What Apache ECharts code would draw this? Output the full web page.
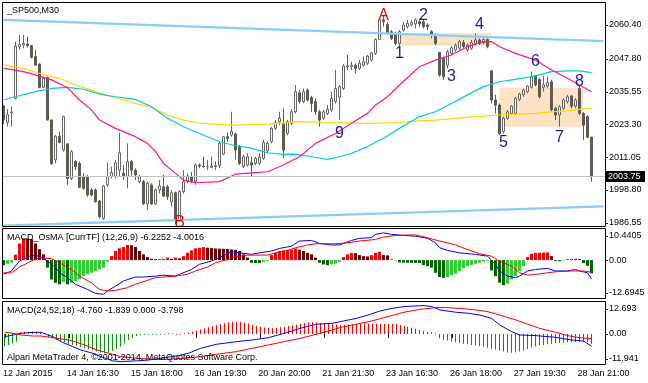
<!DOCTYPE html>
<html><head><meta charset="utf-8">
<script src="https://cdn.jsdelivr.net/npm/echarts@6/dist/echarts.min.js"></script>
<style>html,body{margin:0;padding:0;background:#fff}#c{width:648px;height:383px}</style>
</head><body><div id="c"></div>
<script>
// ---------------- data ----------------
const symbolTitle = '_SP500,M30';
const osmaTitle = 'MACD_OsMA [CurrTF] (12,26,9) -6.2252 -4.0016';
const macdTitle = 'MACD(24,52,18) -4.760 -1.839 0.000 -3.798';
const copyright = 'Alpari MetaTrader 4, \u00a92001-2014, MetaQuotes Software Corp.';
const timeLabels = ['12 Jan 2015','14 Jan 16:30','15 Jan 18:00','16 Jan 19:30','20 Jan 20:00','21 Jan 21:30','23 Jan 16:30','26 Jan 18:00','27 Jan 19:30','28 Jan 21:00'];
const timeLabelStep = 16;
const barSlots = 151;
// [open, close, low, high]
const candles = [
[2030.2,2025.0,2023.5,2030.6],[2024.0,2027.0,2022.5,2029.0],[2027.6,2027.9,2022.5,2030.0],[2033.0,2052.5,2032.6,2054.2],
[2052.3,2053.2,2051.3,2056.7],[2052.9,2053.5,2051.7,2056.7],[2053.3,2052.7,2052.0,2056.0],[2052.7,2048.3,2047.9,2052.9],
[2048.6,2045.4,2045.4,2051.1],[2045.8,2037.1,2036.7,2046.1],[2037.1,2040.5,2036.7,2041.1],[2040.8,2024.9,2024.9,2041.1],
[2024.9,2008.7,2008.1,2025.2],[2010.0,2018.9,2008.7,2019.3],[2018.9,2016.5,2016.2,2020.6],[2013.7,2026.2,2013.1,2026.5],
[2016.0,2003.1,2000.7,2016.2],[2003.1,2013.1,2002.5,2013.7],[2009.4,2007.5,2006.2,2010.0],[2008.7,1999.8,1999.4,2009.4],
[2003.8,1999.4,1998.8,2005.0],[2003.8,1996.9,1996.3,2004.4],[1998.8,1996.9,1996.3,1999.4],[1998.8,1994.4,1994.1,1999.4],
[1994.7,1988.8,1988.2,1995.1],[1988.2,2000.3,1987.6,2000.7],[2000.7,2003.8,2000.0,2009.0],[2003.8,2005.3,2003.1,2007.5],
[2003.8,2009.0,2003.1,2010.0],[2006.2,2012.7,2003.8,2020.2],[2005.0,2003.8,2002.5,2008.1],[2003.8,2009.4,1999.4,2016.2],
[2009.4,2006.2,2003.8,2010.0],[2006.2,2004.4,2002.5,2006.9],[2001.9,2003.8,2001.3,2004.4],[2001.9,1993.6,1993.2,2002.5],
[1993.6,2001.3,1991.3,2001.9],[2000.7,1993.6,1993.2,2001.3],[1993.6,1998.8,1993.2,1999.4],[1998.8,2000.3,1997.5,2002.5],
[2000.0,1996.5,1996.3,2004.4],[2000.0,1996.3,1995.1,2000.7],[1994.4,1997.8,1992.6,1998.8],[1997.8,1987.6,1986.1,1998.2],
[1987.6,1998.2,1987.0,1998.8],[1998.2,2001.9,1997.5,2006.2],[2001.9,2004.0,2001.3,2005.0],[2003.8,2001.9,2001.3,2005.5],
[2001.9,2008.1,2000.7,2008.7],[2008.1,2007.7,2006.9,2008.7],[2007.7,2007.5,2006.9,2011.2],[2007.5,2007.5,2006.2,2010.0],
[2007.2,2007.7,2006.9,2011.2],[2007.5,2007.9,2006.2,2009.4],[2007.9,2016.2,2006.9,2016.8],[2012.2,2018.7,2011.8,2019.0],
[2018.7,2018.0,2016.8,2020.2],[2019.3,2020.6,2018.7,2028.0],[2019.7,2013.7,2010.2,2020.2],[2015.0,2008.7,2008.1,2015.6],
[2007.5,2011.2,2006.9,2011.8],[2008.1,2011.2,2007.5,2012.5],[2009.0,2008.1,2003.8,2011.2],[2008.7,2010.6,2008.1,2011.2],
[2008.7,2011.0,2008.1,2012.5],[2010.6,2016.5,2010.0,2017.5],[2013.4,2016.2,2012.5,2017.0],[2016.8,2021.8,2016.2,2022.4],
[2021.8,2023.9,2021.2,2024.9],[2024.3,2025.6,2023.0,2028.0],[2023.4,2013.7,2010.6,2029.3],[2019.9,2024.3,2019.3,2025.0],
[2023.7,2028.0,2023.0,2029.0],[2028.0,2035.5,2027.4,2038.0],[2035.1,2031.8,2031.1,2036.1],[2031.8,2035.5,2031.1,2036.7],
[2036.1,2032.4,2031.8,2036.7],[2033.3,2031.1,2028.0,2033.9],[2031.8,2028.0,2026.8,2033.0],[2028.0,2024.9,2022.4,2028.7],
[2025.6,2028.0,2025.0,2028.7],[2027.4,2028.9,2026.8,2030.5],[2028.7,2033.0,2028.0,2035.5],[2031.8,2036.7,2031.1,2043.6],
[2033.4,2037.4,2024.9,2038.0],[2036.7,2045.1,2036.1,2045.8],[2045.1,2044.8,2043.6,2049.2],[2044.8,2045.4,2043.6,2046.7],
[2045.4,2044.2,2042.3,2046.1],[2044.2,2046.1,2043.6,2047.3],[2045.4,2046.7,2044.8,2048.6],[2046.1,2048.8,2045.4,2049.2],
[2047.3,2050.1,2046.7,2050.4],[2049.8,2055.0,2049.2,2055.4],[2055.0,2062.3,2054.8,2062.9],[2062.3,2061.6,2059.8,2064.1],
[2060.6,2057.3,2056.7,2061.6],[2057.9,2055.4,2054.8,2058.5],[2057.3,2053.5,2052.9,2057.9],[2053.5,2057.9,2052.3,2058.5],
[2058.5,2060.4,2057.9,2061.6],[2059.8,2061.0,2059.1,2062.3],[2060.4,2061.3,2059.8,2062.3],[2060.8,2062.3,2059.1,2062.9],
[2061.6,2060.8,2059.8,2062.9],[2061.6,2059.8,2059.1,2062.3],[2060.4,2059.8,2058.5,2061.0],[2057.9,2056.7,2055.4,2058.5],
[2056.7,2053.5,2052.9,2057.3],[2050.1,2041.7,2041.1,2050.4],[2047.9,2041.1,2039.9,2048.6],[2045.4,2050.4,2044.2,2051.1],
[2049.8,2051.9,2049.2,2052.6],[2051.1,2052.9,2050.4,2053.5],[2051.7,2054.2,2051.1,2054.8],[2053.8,2052.3,2051.7,2054.8],
[2051.1,2052.9,2050.4,2053.5],[2051.7,2053.8,2051.1,2054.8],[2053.5,2054.8,2052.9,2057.3],[2054.8,2053.5,2052.9,2055.4],
[2053.8,2055.0,2053.2,2055.4],[2055.0,2052.3,2051.7,2055.4],[2043.3,2032.4,2031.1,2043.6],[2032.4,2030.5,2027.4,2034.3],
[2030.5,2019.9,2019.3,2031.1],[2020.6,2025.6,2019.9,2026.2],[2025.6,2028.0,2025.0,2028.7],[2027.4,2030.1,2026.8,2030.5],
[2027.4,2033.0,2026.8,2033.6],[2032.6,2034.6,2032.0,2035.1],[2034.3,2036.1,2033.6,2036.7],[2035.5,2037.6,2034.9,2038.0],
[2037.1,2041.1,2036.7,2043.0],[2041.4,2038.0,2037.4,2041.7],[2040.1,2033.6,2033.0,2040.5],[2037.1,2038.0,2035.5,2041.4],
[2037.6,2038.9,2036.7,2041.1],[2039.2,2028.7,2028.0,2039.9],[2029.3,2026.8,2024.9,2029.9],[2026.8,2029.9,2022.4,2030.5],
[2029.3,2032.4,2028.7,2033.0],[2031.8,2033.6,2031.1,2034.3],[2033.9,2030.1,2029.3,2034.3],[2030.1,2032.4,2029.3,2033.0],
[2036.7,2027.4,2026.8,2038.0],[2027.4,2023.0,2017.5,2027.8],[2026.2,2018.5,2018.1,2026.8],[2018.5,2003.75,2001.9,2018.7]
];
// moving averages read at sample bars: [bar, price]
const maMagenta = [[0,2044.3],[5,2043.0],[9,2041.3],[12,2039.9],[16,2037.0],[19,2032.4],[22,2028.7],[24,2024.9],[28,2021.8],[33,2018.7],[36,2016.2],[38,2013.1],[40,2008.7],[43,2005.0],[45,2002.5],[48,2001.5],[54,2001.9],[58,2004.7],[62,2005.2],[66,2005.6],[70,2008.1],[74,2011.2],[78,2016.2],[83,2019.9],[87,2023.7],[91,2027.4],[93,2030.5],[96,2033.6],[99,2038.0],[104,2044.8],[108,2047.3],[112,2049.2],[116,2052.3],[120,2054.2],[122,2054.2],[124,2052.3],[128,2049.8],[133,2047.3],[137,2043.6],[141,2040.5],[144,2038.0],[147,2035.5]];
const maCyan = [[0,2032.4],[3,2033.6],[8,2035.5],[12,2036.7],[16,2037.1],[20,2036.4],[24,2034.6],[28,2033.6],[33,2032.6],[37,2029.9],[41,2025.6],[45,2022.4],[49,2019.9],[54,2016.8],[58,2015.3],[62,2014.4],[66,2012.7],[70,2012.1],[73,2012.2],[77,2011.2],[81,2010.2],[84,2011.2],[87,2012.5],[91,2015.0],[95,2018.1],[99,2021.8],[104,2026.2],[108,2028.0],[112,2031.1],[116,2034.3],[120,2037.4],[124,2039.2],[128,2040.1],[133,2041.4],[137,2043.0],[141,2043.3],[144,2043.3],[147,2042.6]];
const maYellow = [[0,2045.5],[5,2044.2],[9,2042.3],[12,2041.1],[14,2040.5],[18,2038.0],[22,2036.1],[27,2033.6],[33,2031.1],[37,2029.6],[41,2026.8],[45,2024.9],[49,2023.7],[54,2023.3],[58,2023.0],[66,2023.4],[74,2024.3],[83,2024.0],[91,2023.7],[99,2024.0],[104,2024.6],[108,2024.9],[116,2025.9],[124,2026.8],[133,2027.4],[137,2028.0],[141,2028.3],[144,2028.9],[147,2029.3]];
const channelTop = [[0,2062.3],[150,2054.4]];
const channelBottom = [[0,1985.5],[150,1992.7]];
const lastPrice = 2003.75;
const lastPriceLabel = '2003.75';
const priceRange = [1985.16, 2068.80];
const priceTicks = [2060.40,2047.80,2035.55,2023.30,2011.05,1998.80,1986.55];
const priceTickLabels = ['2060.40','2047.80','2035.55','2023.30','2011.05','1998.80','1986.55'];
// rectangles: [barFrom, priceTop, barTo, priceBottom]
const zones = [[98.75,2057.3,122,2052.7],[124,2037.0,144.9,2022.4]];
const waveText  = ['A','1','2','3','4','5','6','7','8','9','B'];
const waveBar   = [95,99,105,112,119,125,133,139,144,84,44];
const wavePrice = [2064.0,2049.6,2064.0,2041.3,2060.5,2016.5,2046.8,2018.5,2039.1,2019.8,1986.5];

const osmaRange = [-12.6945, 10.4405];
const osmaTickLabels = ['10.4405','0.00','-12.6945'];
const osmaHist = [-1.7,-1.2,-0.8,1.8,5.5,7.2,7.1,6.9,5.5,3.6,1.9,-2.5,-6.4,-7.5,-8.0,-7.2,-8.0,-7.5,-6.9,-6.4,
-5.3,-4.7,-4.2,-3.6,-3.1,-2.5,-0.55,1.3,3.0,3.9,4.3,5.0,4.9,4.3,3.0,1.9,1.0,0.45,0.35,0.25,
0.35,0.8,0.35,0.8,0.55,1.3,2.4,3.2,3.9,4.1,4.3,4.1,3.95,3.85,3.8,3.75,3.7,3.5,3.4,3.0,
1.9,0.8,-0.9,-0.95,-1.0,-0.7,-0.3,1.65,2.4,3.0,3.2,3.4,3.5,3.85,3.5,3.0,2.4,1.9,0.8,-0.9,
-1.45,-1.7,-1.4,-1.2,-0.55,1.0,1.9,2.4,2.3,1.65,1.3,1.2,1.65,2.4,2.75,1.65,1.55,0.2,-0.1,-0.8,
-0.85,-0.9,-0.92,-0.95,-0.97,-1.65,-2.0,-2.5,-4.2,-5.6,-5.85,-5.6,-5.0,-4.5,-3.6,-2.75,-2.0,-1.65,-1.2,-0.9,
-0.55,-0.35,-3.4,-5.3,-7.5,-8.3,-7.8,-6.4,-5.3,-3.6,-2.0,1.0,2.1,2.4,2.45,2.5,2.55,1.3,-0.35,-0.4,
-0.15,0.3,0.35,0.4,0.3,-1.0,-1.9,-4.4];
const osmaMain = [[0,-4.7],[2,-3.6],[4,-0.3],[7,1.65],[9,1.3],[11,-0.3],[13,-2.5],[14,-4.2],[16,-5.8],[18,-8.0],[21,-9.7],[23,-11.0],[25,-11.3],[26,-10.2],[28,-8.6],[30,-6.9],[33,-5.6],[35,-5.6],[38,-5.3],[40,-5.0],[43,-5.3],[44,-4.7],[47,-3.1],[49,-1.4],[52,-0.3],[54,0.8],[57,2.75],[59,2.4],[62,1.9],[64,2.4],[67,3.0],[69,3.85],[72,4.6],[74,6.3],[77,6.5],[79,5.5],[82,5.0],[84,5.0],[87,6.5],[89,7.2],[92,7.4],[93,8.5],[95,9.0],[97,8.5],[100,8.15],[103,7.9],[106,7.2],[108,5.7],[109,4.1],[111,3.2],[114,2.4],[118,1.9],[121,1.3],[123,-1.4],[124,-3.6],[126,-5.3],[128,-5.8],[129,-5.3],[131,-3.6],[133,-3.1],[136,-2.75],[138,-3.6],[141,-3.6],[143,-3.1],[144,-3.6],[146,-4.2],[147,-6.2]];
const osmaSignal = [[0,-4.2],[2,-4.2],[4,-2.3],[7,-0.3],[9,0.8],[12,0.45],[14,-0.9],[17,-3.1],[19,-5.3],[22,-7.5],[24,-9.7],[26,-10.2],[28,-10.0],[31,-9.1],[33,-8.0],[36,-6.7],[38,-5.8],[41,-5.5],[43,-5.3],[46,-4.7],[48,-3.6],[51,-2.3],[53,-0.9],[56,0.2],[58,1.1],[61,1.65],[63,1.65],[66,1.65],[68,2.4],[71,3.2],[73,4.1],[76,5.0],[78,5.4],[83,5.4],[86,5.7],[89,6.3],[93,6.8],[95,7.6],[98,8.15],[101,8.3],[103,8.3],[106,7.4],[109,6.3],[113,5.0],[116,3.5],[119,2.1],[122,1.3],[124,-0.3],[127,-2.0],[129,-4.2],[131,-5.0],[133,-4.7],[136,-4.2],[138,-3.85],[142,-3.6],[145,-3.6],[147,-4.0]];

const macdRange = [-11.941, 12.693];
const macdTickLabels = ['12.693','0.00','-11.941'];
const macdHist = [-4.95,-4.3,-3.65,-3.0,0.65,0.9,0.9,0.9,0.9,0.65,0.4,-1.05,-1.7,-2.35,-2.75,-3.25,-3.9,-4.3,-4.7,-5.1,
-5.6,-6.0,-6.4,-6.9,-7.3,-7.55,-7.3,-6.65,-5.9,-4.95,-3.65,-2.35,-1.45,-0.8,-0.4,-0.3,-0.3,-0.3,-0.3,-0.3,
0,0.3,0.3,0,0,0.3,0.5,0.9,1.3,1.7,2.2,2.6,3.0,3.4,3.8,4.2,4.55,4.8,4.8,4.7,
4.45,4.05,3.65,3.25,2.85,2.5,2.35,2.2,2.35,2.6,2.85,3.1,3.4,3.65,3.9,4.2,4.45,4.55,4.45,4.3,
4.2,3.9,3.8,3.7,3.6,3.6,3.7,3.8,3.9,4.0,4.1,4.1,4.0,4.0,3.95,3.9,3.9,3.9,3.8,3.55,
3.15,2.85,2.5,2.0,1.55,1.2,0.9,0.65,0.3,-1.7,-2.35,-2.6,-3.0,-3.25,-3.5,-3.8,-4.05,-4.3,-4.55,-4.8,
-5.1,-5.35,-5.75,-6.1,-6.5,-6.9,-7.2,-7.3,-7.2,-6.9,-6.5,-5.9,-5.35,-4.95,-4.55,-4.3,-4.05,-3.8,-3.65,-3.5,
-3.4,-3.25,-3.25,-3.1,-3.1,-3.25,-3.25,-3.8];
const macdMain = [[0,-1.05],[2,-0.4],[4,0.25],[7,0.65],[9,0.65],[12,-1.05],[14,-3.0],[17,-4.95],[19,-6.25],[22,-7.55],[24,-8.85],[27,-10.5],[29,-10.8],[33,-10.5],[36,-10.2],[39,-9.5],[43,-8.6],[46,-7.55],[49,-5.6],[53,-4.05],[58,-3.0],[62,-2.35],[66,-1.45],[70,0.25],[74,2.2],[78,3.8],[82,4.15],[84,4.8],[88,6.1],[91,7.4],[94,9.0],[97,10.0],[100,10.7],[103,10.95],[105,11.1],[107,10.7],[109,9.4],[113,8.5],[116,8.1],[119,7.4],[122,6.1],[124,3.5],[127,0.9],[129,-0.4],[133,-0.65],[138,-1.3],[142,-2.35],[145,-2.75],[147,-4.76]];
const macdSignal = [[0,0.65],[2,0.25],[4,-0.4],[7,-0.8],[9,-0.8],[12,-1.45],[16,-2.35],[20,-4.3],[23,-6.25],[27,-7.95],[29,-8.85],[33,-9.5],[37,-9.9],[41,-9.9],[45,-9.5],[49,-8.85],[53,-7.95],[58,-6.9],[62,-5.6],[66,-4.3],[70,-3.0],[74,-1.7],[78,-0.15],[82,1.55],[84,2.5],[88,3.8],[92,5.1],[96,6.8],[100,8.5],[104,9.65],[108,10.3],[111,10.3],[114,10.0],[118,9.4],[121,8.7],[124,7.4],[128,5.5],[131,3.8],[134,2.2],[138,0.65],[141,-0.65],[144,-1.45],[147,-1.84]];

// ---------------- layout / style ----------------
const FONT = '"Liberation Sans", Arial, sans-serif';
const panels = [
  {top: 2.5, height: 224},
  {top: 228.5, height: 70},
  {top: 301.5, height: 63}
];
const cats = Array.from({length: barSlots}, (_, i) => String(i));
const labelTick = i => i % timeLabelStep === 0 && i / timeLabelStep < timeLabels.length;

const chart = echarts.init(document.getElementById('c'), null, {renderer: 'canvas'});

const xAxes = panels.map((p, g) => ({
  type: 'category', gridIndex: g, data: cats, boundaryGap: true,
  axisLine: {show: false},
  axisTick: g === 2 ? {show: true, interval: (i) => labelTick(i), alignWithLabel: true, length: 4, lineStyle: {color: '#000'}} : {show: false},
  axisLabel: g === 2 ? {show: true, interval: (i) => labelTick(i), formatter: (v, i) => timeLabels[i / timeLabelStep] || '',
    align: 'left', margin: 5, fontSize: 9, fontFamily: FONT, color: '#000', padding: [0, 0, 0, -2]} : {show: false},
  splitLine: {show: false}
}));

function osmaColor(p) {
  const i = p.dataIndex, v = osmaHist[i], prev = i > 0 ? osmaHist[i - 1] : v;
  if (v >= 0) return v >= prev ? '#ff0000' : '#6b0000';
  return v <= prev ? '#006400' : '#32cd32';
}

const option = {
  animation: false,
  backgroundColor: '#ffffff',
  grid: panels.map(p => ({left: 1.5, width: 604, top: p.top, height: p.height, show: false})),
  xAxis: xAxes,
  yAxis: [
    {type: 'value', gridIndex: 0, min: priceRange[0], max: priceRange[1], show: false, splitLine: {show: false}},
    {type: 'value', gridIndex: 1, min: osmaRange[0], max: osmaRange[1], show: false, splitLine: {show: false}},
    {type: 'value', gridIndex: 2, min: macdRange[0], max: macdRange[1], show: false, splitLine: {show: false}}
  ],
  series: [
    { // shaded zones + bid line (background)
      type: 'custom', xAxisIndex: 0, yAxisIndex: 0, z: 1, clip: true, silent: true,
      data: zones.map((z, k) => [z[0], z[1], z[2], z[3], k]),
      renderItem: (params, api) => {
        const a = api.coord([api.value(0), api.value(1)]);
        const b = api.coord([api.value(2), api.value(3)]);
        return {type: 'rect', shape: {x: a[0], y: a[1], width: b[0] - a[0], height: b[1] - a[1]}, style: {fill: '#fde2c4'}};
      },
      markLine: {silent: true, symbol: 'none', label: {show: false},
        lineStyle: {color: '#c0c0c0', type: 'solid', width: 1}, data: [{yAxis: lastPrice}]}
    },
    {
      type: 'candlestick', xAxisIndex: 0, yAxisIndex: 0, z: 2, barWidth: 2,
      data: candles,
      itemStyle: {color: '#ffffff', color0: '#5c5c50', borderColor: '#666666', borderColor0: '#5c5c50', borderWidth: 1}
    },
    {type: 'line', xAxisIndex: 0, yAxisIndex: 0, z: 3, data: maYellow, showSymbol: false, symbol: 'none', lineStyle: {color: '#ffd700', width: 1.2}},
    {type: 'line', xAxisIndex: 0, yAxisIndex: 0, z: 3, data: maCyan, showSymbol: false, symbol: 'none', lineStyle: {color: '#00ced1', width: 1.2}},
    {type: 'line', xAxisIndex: 0, yAxisIndex: 0, z: 3, data: maMagenta, showSymbol: false, symbol: 'none', lineStyle: {color: '#ff1493', width: 1.2}},
    {type: 'line', xAxisIndex: 0, yAxisIndex: 0, z: 3, data: channelTop, showSymbol: false, symbol: 'none', lineStyle: {color: '#87cefa', width: 2.2}},
    {type: 'line', xAxisIndex: 0, yAxisIndex: 0, z: 3, data: channelBottom, showSymbol: false, symbol: 'none', lineStyle: {color: '#87cefa', width: 2.2}},
    {
      type: 'custom', xAxisIndex: 0, yAxisIndex: 0, z: 5, clip: true, silent: true,
      data: waveText.map((t, k) => [waveBar[k], wavePrice[k], k]),
      renderItem: (params, api) => {
        const p = api.coord([api.value(0), api.value(1)]);
        const t = waveText[api.value(2)];
        const isLetter = /[A-Z]/.test(t);
        return {type: 'text', x: p[0], y: p[1], style: {text: t, fill: isLetter ? '#ff0000' : '#1c1c9a',
          font: '16px ' + FONT, align: 'center', verticalAlign: 'middle', textAlign: 'center', textVerticalAlign: 'middle'}};
      }
    },
    // OsMA panel
    {type: 'bar', xAxisIndex: 1, yAxisIndex: 1, z: 2, barWidth: 3, data: osmaHist, itemStyle: {color: osmaColor}},
    {type: 'line', xAxisIndex: 1, yAxisIndex: 1, z: 3, data: osmaMain, showSymbol: false, symbol: 'none', lineStyle: {color: '#0000ff', width: 1}},
    {type: 'line', xAxisIndex: 1, yAxisIndex: 1, z: 3, data: osmaSignal, showSymbol: false, symbol: 'none', lineStyle: {color: '#ff0000', width: 1}},
    // MACD panel: 1px histogram snapped to the pixel grid
    {
      type: 'custom', xAxisIndex: 2, yAxisIndex: 2, z: 2, clip: true, silent: true,
      data: macdHist.map((v, i) => [i, v]),
      renderItem: (params, api) => {
        const v = api.value(1);
        const p = api.coord([api.value(0), v]);
        const z0 = api.coord([api.value(0), 0]);
        const x = Math.floor(p[0]);
        const y1 = Math.min(p[1], z0[1]), y2 = Math.max(p[1], z0[1]);
        return {type: 'rect', shape: {x: x, y: y1, width: 1, height: Math.max(y2 - y1, 0.8)},
          style: {fill: v >= 0 ? '#ff0000' : '#0f8f0f'}};
      }
    },
    {type: 'line', xAxisIndex: 2, yAxisIndex: 2, z: 3, data: macdMain, showSymbol: false, symbol: 'none', lineStyle: {color: '#0000ff', width: 1}},
    {type: 'line', xAxisIndex: 2, yAxisIndex: 2, z: 3, data: macdSignal, showSymbol: false, symbol: 'none', lineStyle: {color: '#ff0000', width: 1}}
  ]
};
chart.setOption(option);

// ---------------- frame, scale labels, titles ----------------
const py = (axis, v) => chart.convertToPixel({yAxisIndex: axis}, v);
const g = [];
const txt = (x, y, s, extra) => Object.assign({type: 'text', x: x, y: y, z: 101, silent: true,
  style: {text: s, fill: '#000', font: '9px ' + FONT, align: 'left', verticalAlign: 'middle', textAlign: 'left', textVerticalAlign: 'middle'}}, extra || {});
const tick = (y) => ({type: 'line', z: 101, silent: true, shape: {x1: 605, y1: Math.round(y) + 0.5, x2: 608, y2: Math.round(y) + 0.5}, style: {stroke: '#000', lineWidth: 1}});
panels.forEach(p => g.push({type: 'rect', z: 100, silent: true, shape: {x: 2.5, y: p.top, width: 603, height: p.height}, style: {fill: null, stroke: '#000', lineWidth: 1}}));
priceTicks.forEach((v, k) => { const y = py(0, v); g.push(tick(y)); g.push(txt(609, y, priceTickLabels[k])); });
// last price marker
{
  const y = Math.round(py(0, lastPrice));
  g.push({type: 'rect', z: 102, silent: true, shape: {x: 606, y: y - 6, width: 39, height: 11}, style: {fill: '#000'}});
  const t = txt(608, y - 0.5, lastPriceLabel, {z: 103});
  t.style.fill = '#fff';
  g.push(t);
}
// indicator scales: max label just below top, zero, min label just above bottom
const indLabel = (axis, range, labels) => {
  const yTop = py(axis, range[1]) + 7.5, yZero = py(axis, 0), yBot = py(axis, range[0]) - 5.5;
  [yTop, yZero, yBot].forEach((y, k) => { g.push(tick(y)); g.push(txt(609, y, labels[k])); });
};
indLabel(1, osmaRange, osmaTickLabels);
indLabel(2, macdRange, macdTickLabels);
g.push(txt(7, 10.5, symbolTitle));
g.push(txt(7, 238, osmaTitle));
g.push(txt(7, 310.5, macdTitle));
g.push(txt(7, 358, copyright));
chart.setOption({graphic: g});
</script>
</body></html>
